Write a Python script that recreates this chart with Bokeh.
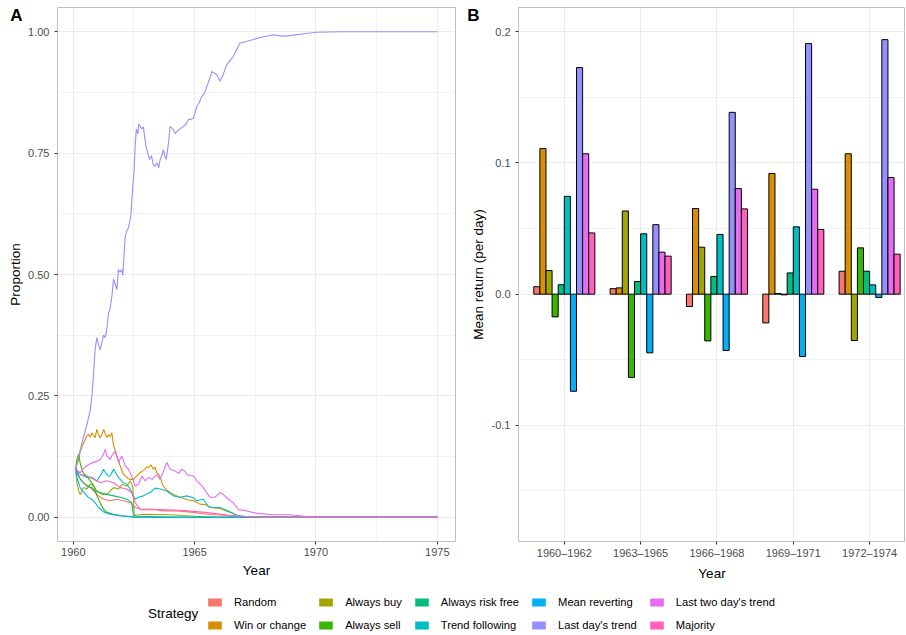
from bokeh.plotting import figure
from bokeh.models import (Range1d, FixedTicker, Label, Legend, LegendItem, LinearAxis,
                          ColumnDataSource, PrintfTickFormatter)
from bokeh.layouts import column, row
from bokeh.transform import dodge
from bokeh.embed import file_html
from bokeh.resources import INLINE

FONT = "Liberation Sans"

# ---------------- data ----------------
strategies = ["Random", "Win or change", "Always buy", "Always sell",
              "Always risk free", "Trend following", "Mean reverting",
              "Last day's trend", "Last two day's trend", "Majority"]
colors = ["#F8766D", "#D89000", "#A3A500", "#39B600", "#00BF7D",
          "#00BFC4", "#00B0F6", "#9590FF", "#E76BF3", "#FF62BC"]

# Panel A: proportion of population using each strategy over time
random_year = [1960.1, 1960.2, 1960.42, 1960.63, 1960.84, 1961.04, 1961.25, 1961.52, 1961.8, 1962.07,
               1962.34, 1962.55, 1962.89, 1963.3, 1963.71, 1964.27, 1964.95, 1965.5, 1966.2, 1966.8, 1975]
random_prop = [0.10, 0.085, 0.071, 0.064, 0.054, 0.044, 0.037, 0.034, 0.037, 0.034,
               0.03, 0.02, 0.015, 0.016, 0.013, 0.013, 0.01, 0.006, 0.004, 0.0, 0.0]

winchange_year = [1960.1, 1960.2, 1960.29, 1960.4, 1960.49, 1960.56, 1960.63, 1960.7, 1960.77, 1960.84,
                  1960.9, 1960.97, 1961.04, 1961.11, 1961.18, 1961.25, 1961.32, 1961.39, 1961.45, 1961.52,
                  1961.59, 1961.66, 1961.73, 1961.8, 1961.93, 1962.05, 1962.14, 1962.25, 1962.34, 1962.48,
                  1962.55, 1962.62, 1962.7, 1962.76, 1962.85, 1962.96, 1963.03, 1963.1, 1963.2, 1963.3,
                  1963.37, 1963.44, 1963.52, 1963.58, 1963.65, 1963.71, 1963.85, 1963.99, 1964.2, 1964.4,
                  1964.7, 1964.95, 1965.22, 1965.45, 1965.64, 1965.85, 1966.05, 1966.25, 1966.46, 1966.7,
                  1966.87, 1967.1, 1968.0, 1975]
winchange_prop = [0.10, 0.115, 0.136, 0.15, 0.16, 0.168, 0.171, 0.165, 0.174, 0.168,
                  0.164, 0.181, 0.17, 0.164, 0.17, 0.181, 0.172, 0.164, 0.17, 0.166,
                  0.174, 0.147, 0.138, 0.126, 0.106, 0.09, 0.085, 0.08, 0.078, 0.078,
                  0.082, 0.085, 0.09, 0.092, 0.095, 0.099, 0.104, 0.102, 0.108, 0.099,
                  0.103, 0.092, 0.088, 0.082, 0.072, 0.064, 0.056, 0.051, 0.045, 0.041,
                  0.036, 0.034, 0.027, 0.026, 0.02, 0.019, 0.018, 0.014, 0.01, 0.005,
                  0.003, 0.001, 0.0, 0.0]

buy_year = [1960.1, 1960.15, 1960.22, 1960.29, 1960.42, 1960.56, 1960.7, 1960.84, 1960.97, 1961.18,
            1961.39, 1961.52, 1961.66, 1961.86, 1962.0, 1962.21, 1962.34, 1962.45, 1962.51, 1963.0,
            1964.0, 1965.0, 1966.0, 1975]
buy_prop = [0.10, 0.071, 0.054, 0.047, 0.061, 0.058, 0.068, 0.065, 0.054, 0.047,
            0.047, 0.054, 0.061, 0.058, 0.068, 0.064, 0.075, 0.064, 0.004, 0.006,
            0.005, 0.002, 0.0, 0.0]

sell_year = [1960.1, 1960.15, 1960.22, 1960.29, 1960.42, 1960.56, 1960.7, 1960.84, 1960.97, 1961.11,
             1961.25, 1961.39, 1961.66, 1962.0, 1962.5, 1963.5, 1975]
sell_prop = [0.10, 0.12, 0.13, 0.11, 0.09, 0.085, 0.075, 0.065, 0.045, 0.03,
             0.016, 0.01, 0.006, 0.003, 0.001, 0.0, 0.0]

riskfree_year = [1960.1, 1960.29, 1960.56, 1960.77, 1960.9, 1961.11, 1961.39, 1961.66, 1961.93, 1962.21,
                 1962.41, 1962.48, 1962.6, 1963.5, 1964.5, 1965.5, 1975]
riskfree_prop = [0.10, 0.078, 0.064, 0.061, 0.054, 0.051, 0.047, 0.044, 0.041, 0.037,
                 0.03, 0.004, 0.002, 0.001, 0.0, 0.0, 0.0]

trend_year = [1960.1, 1960.29, 1960.56, 1960.77, 1960.97, 1961.11, 1961.25, 1961.32, 1961.45, 1961.52,
              1961.66, 1961.86, 1962.07, 1962.21, 1962.34, 1962.55, 1962.69, 1962.89, 1963.03, 1963.17,
              1963.37, 1963.58, 1963.85, 1964.13, 1964.4, 1964.68, 1964.95, 1965.09, 1965.36, 1965.57,
              1965.77, 1966.05, 1966.39, 1966.73, 1967.0, 1975]
trend_prop = [0.10, 0.088, 0.082, 0.082, 0.075, 0.085, 0.099, 0.092, 0.085, 0.085,
              0.099, 0.082, 0.071, 0.068, 0.058, 0.037, 0.041, 0.044, 0.048, 0.051,
              0.06, 0.058, 0.054, 0.044, 0.041, 0.044, 0.04, 0.034, 0.037, 0.022,
              0.02, 0.02, 0.013, 0.004, 0.0, 0.0]

meanrev_year = [1960.1, 1960.15, 1960.29, 1960.42, 1960.6, 1960.84, 1961.04, 1961.25, 1961.52, 1961.9,
                1962.5, 1975]
meanrev_prop = [0.10, 0.082, 0.06, 0.052, 0.042, 0.034, 0.02, 0.011, 0.006, 0.003,
                0.0, 0.0]

lastday_year = [1960.1, 1960.2, 1960.29, 1960.42, 1960.56, 1960.7, 1960.77, 1960.84, 1960.9, 1960.97,
                1961.04, 1961.11, 1961.18, 1961.25, 1961.32, 1961.39, 1961.45, 1961.52, 1961.59, 1961.66,
                1961.73, 1961.8, 1961.86, 1961.93, 1962.0, 1962.04, 1962.08, 1962.14, 1962.21, 1962.27,
                1962.37, 1962.45, 1962.51, 1962.55, 1962.6, 1962.66, 1962.7, 1962.76, 1962.82, 1962.89,
                1962.95, 1963.0, 1963.07, 1963.14, 1963.22, 1963.3, 1963.37, 1963.45, 1963.52, 1963.58,
                1963.65, 1963.71, 1963.77, 1963.83, 1963.92, 1963.99, 1964.1, 1964.2, 1964.27, 1964.4,
                1964.54, 1964.65, 1964.74, 1964.85, 1964.95, 1965.09, 1965.2, 1965.29, 1965.4, 1965.5,
                1965.6, 1965.71, 1965.8, 1965.91, 1966.05, 1966.18, 1966.32, 1966.45, 1966.59, 1966.75,
                1966.87, 1967.14, 1967.62, 1968.24, 1968.6, 1968.93, 1969.5, 1970.02, 1971.0, 1975]
lastday_prop = [0.10, 0.12, 0.14, 0.165, 0.19, 0.22, 0.25, 0.30, 0.345, 0.37,
                0.355, 0.345, 0.36, 0.375, 0.37, 0.39, 0.42, 0.43, 0.455, 0.49,
                0.48, 0.469, 0.51, 0.505, 0.51, 0.498, 0.53, 0.579, 0.59, 0.596,
                0.62, 0.68, 0.716, 0.764, 0.80, 0.79, 0.81, 0.805, 0.80, 0.804,
                0.78, 0.764, 0.75, 0.737, 0.745, 0.725, 0.723, 0.73, 0.72, 0.737,
                0.745, 0.757, 0.745, 0.737, 0.77, 0.805, 0.80, 0.79, 0.795, 0.80,
                0.805, 0.81, 0.819, 0.82, 0.822, 0.846, 0.855, 0.867, 0.872, 0.887,
                0.90, 0.918, 0.915, 0.912, 0.898, 0.912, 0.932, 0.94, 0.949, 0.965,
                0.977, 0.98, 0.987, 0.994, 0.991, 0.992, 0.996, 0.999, 1.0, 1.0]

lasttwo_year = [1960.1, 1960.2, 1960.29, 1960.42, 1960.56, 1960.7, 1960.84, 1960.97, 1961.11, 1961.25,
                1961.32, 1961.39, 1961.52, 1961.6, 1961.73, 1961.86, 1962.0, 1962.14, 1962.27, 1962.41,
                1962.55, 1962.69, 1962.83, 1962.96, 1963.1, 1963.25, 1963.44, 1963.58, 1963.72, 1963.85,
                1963.99, 1964.2, 1964.35, 1964.47, 1964.6, 1964.68, 1964.81, 1964.95, 1965.09, 1965.2,
                1965.36, 1965.5, 1965.64, 1965.84, 1966.05, 1966.18, 1966.39, 1966.59, 1966.8, 1967.14,
                1967.56, 1968.24, 1968.93, 1969.61, 1970.2, 1975]
lasttwo_prop = [0.10, 0.095, 0.092, 0.10, 0.106, 0.11, 0.113, 0.115, 0.119, 0.13,
                0.14, 0.126, 0.119, 0.128, 0.136, 0.113, 0.126, 0.106, 0.099, 0.085,
                0.064, 0.068, 0.085, 0.075, 0.082, 0.078, 0.088, 0.078, 0.095, 0.113,
                0.099, 0.095, 0.09, 0.099, 0.095, 0.088, 0.086, 0.085, 0.075, 0.07,
                0.061, 0.05, 0.041, 0.041, 0.051, 0.047, 0.037, 0.03, 0.016, 0.013,
                0.008, 0.005, 0.005, 0.0015, 0.0, 0.0]

majority_year = [1960.1, 1960.29, 1960.56, 1960.84, 1961.11, 1961.39, 1961.66, 1961.93, 1962.21, 1962.41,
                 1962.55, 1962.76, 1963.03, 1963.58, 1964.13, 1964.68, 1965.22, 1965.8, 1966.4, 1967.0,
                 1967.5, 1975]
majority_prop = [0.10, 0.088, 0.085, 0.078, 0.071, 0.075, 0.071, 0.061, 0.058, 0.051,
                 0.03, 0.016, 0.017, 0.016, 0.015, 0.013, 0.011, 0.008, 0.004, 0.002,
                 0.0, 0.0]

series_years = [random_year, winchange_year, buy_year, sell_year, riskfree_year,
                trend_year, meanrev_year, lastday_year, lasttwo_year, majority_year]
series_props = [random_prop, winchange_prop, buy_prop, sell_prop, riskfree_prop,
                trend_prop, meanrev_prop, lastday_prop, lasttwo_prop, majority_prop]

# Panel B: mean return per day by period
periods = ["1960\u20131962", "1963\u20131965", "1966\u20131968", "1969\u20131971", "1972\u20131974"]
period_pos = [1, 2, 3, 4, 5]
ret_random = [0.0057, 0.0042, -0.0094, -0.0219, 0.0175]
ret_winchange = [0.111, 0.0048, 0.0653, 0.092, 0.107]
ret_buy = [0.018, 0.0634, 0.0358, 0.0005, -0.0353]
ret_sell = [-0.0173, -0.0634, -0.0356, -0.0005, 0.0353]
ret_riskfree = [0.0072, 0.0097, 0.0135, 0.0162, 0.0175]
ret_trend = [0.0746, 0.046, 0.0455, 0.0513, 0.0071]
ret_meanrev = [-0.074, -0.0447, -0.0429, -0.0475, -0.0025]
ret_lastday = [0.1727, 0.053, 0.1386, 0.191, 0.194]
ret_lasttwo = [0.107, 0.032, 0.0805, 0.080, 0.0889]
ret_majority = [0.0467, 0.029, 0.065, 0.0493, 0.0305]
series_returns = [ret_random, ret_winchange, ret_buy, ret_sell, ret_riskfree,
                  ret_trend, ret_meanrev, ret_lastday, ret_lasttwo, ret_majority]


# ---------------- styling helpers ----------------
def style(p):
    p.outline_line_color = "#BEBEBE"
    p.outline_line_width = 1
    p.background_fill_color = "white"
    p.border_fill_color = "white"
    for ax in p.axis:
        ax.axis_line_color = None
        ax.major_tick_line_color = "#333333"
        ax.major_tick_out = 3
        ax.major_tick_in = 0
        ax.minor_tick_line_color = None
        ax.major_label_standoff = 2
        ax.major_label_text_font = FONT
        ax.major_label_text_font_size = "11px"
        ax.major_label_text_color = "#4D4D4D"
        ax.axis_label_text_font = FONT
        ax.axis_label_text_font_size = "13.5px"
        ax.axis_label_text_font_style = "normal"
        ax.axis_label_text_color = "black"
    for g in p.grid:
        g.grid_line_color = "#EBEBEB"
        g.grid_line_width = 1


def tag_axis(p, tick, tag, title, label_standoff, title_standoff):
    """Outer left axis carrying the panel tag (bold letter) and the y title."""
    ax = LinearAxis(ticker=FixedTicker(ticks=[tick]),
                    major_label_overrides={tick: tag},
                    axis_label=title,
                    axis_line_color=None, major_tick_line_color=None,
                    minor_tick_line_color=None, major_tick_out=0, major_tick_in=0,
                    major_label_standoff=label_standoff,
                    major_label_text_font=FONT, major_label_text_font_size="17px",
                    major_label_text_font_style="bold", major_label_text_color="black",
                    axis_label_standoff=title_standoff,
                    axis_label_text_font=FONT, axis_label_text_font_size="13.5px",
                    axis_label_text_font_style="normal", axis_label_text_color="black")
    p.add_layout(ax, "left")


H = 583
TOP = 7
BOTTOM = 42

# ---------------- Panel A ----------------
xa0, xa1 = 1959.35, 1975.75
ya0, ya1 = -0.05, 1.05
pA = figure(width=468, height=H, x_range=Range1d(xa0, xa1), y_range=Range1d(ya0, ya1),
            output_backend="svg", toolbar_location=None,
            min_border_left=57, min_border_right=13, min_border_top=TOP, min_border_bottom=BOTTOM)
for yrs, props, c in zip(series_years, series_props, colors):
    pA.line(yrs, props, line_color=c, line_width=1.1)
pA.xaxis.ticker = FixedTicker(ticks=[1960, 1965, 1970, 1975], minor_ticks=[1962.5, 1967.5, 1972.5])
pA.yaxis.ticker = FixedTicker(ticks=[0, 0.25, 0.5, 0.75, 1.0], minor_ticks=[0.125, 0.375, 0.625, 0.875])
pA.yaxis.formatter = PrintfTickFormatter(format="%.2f")
pA.xaxis.axis_label = "Year"
style(pA)
pA.yaxis.major_label_standoff = 4
for g in pA.grid:
    g.minor_grid_line_color = "#EBEBEB"
    g.minor_grid_line_width = 0.6
pA.xaxis.axis_label_standoff = 4
tag_axis(pA, round(ya1 - 8 * (ya1 - ya0) / 534, 4), "A", "Proportion", 3, -16)

# ---------------- Panel B ----------------
xb0, xb1 = 0.4, 5.47
yb0, yb1 = -0.1885, 0.2185
pB = figure(width=437, height=H, x_range=Range1d(xb0, xb1), y_range=Range1d(yb0, yb1),
            output_backend="svg", toolbar_location=None,
            min_border_left=48, min_border_right=0, min_border_top=TOP, min_border_bottom=BOTTOM)
n = len(strategies)
bar_w = 0.8 / n
for i, (name, rets, c) in enumerate(zip(strategies, series_returns, colors)):
    src = ColumnDataSource(dict(pos=period_pos, ret=rets))
    pB.vbar(x=dodge("pos", (i - (n - 1) / 2) * bar_w, range=pB.x_range), top="ret", bottom=0,
            width=bar_w, source=src, fill_color=c, line_color="black", line_width=1)
pB.xaxis.ticker = FixedTicker(ticks=period_pos)
pB.xaxis.major_label_overrides = {pos: lab for pos, lab in zip(period_pos, periods)}
pB.yaxis.ticker = FixedTicker(ticks=[-0.1, 0.0, 0.1, 0.2], minor_ticks=[-0.15, -0.05, 0.05, 0.15])
pB.yaxis.formatter = PrintfTickFormatter(format="%.1f")
pB.xaxis.axis_label = "Year"
style(pB)
pB.yaxis.major_label_standoff = 4
pB.xgrid.minor_grid_line_color = None
pB.ygrid.minor_grid_line_color = "#EBEBEB"
pB.ygrid.minor_grid_line_width = 0.6
pB.xaxis.axis_label_standoff = 4
tag_axis(pB, round(yb1 - 8 * (yb1 - yb0) / 534, 4), "B", "Mean return (per day)", 9, -22)

# ---------------- Legend strip ----------------
LH = 635 - H
pL = figure(width=905, height=LH, x_range=Range1d(0, 905), y_range=Range1d(0, LH),
            output_backend="svg", toolbar_location=None,
            min_border_left=0, min_border_right=0, min_border_top=0, min_border_bottom=0)
pL.axis.visible = False
pL.grid.visible = False
pL.outline_line_color = None
items = []
for name, c in zip(strategies, colors):
    r = pL.vbar(x=[float("nan")], top=[float("nan")], width=1, fill_color=c, line_color=None)
    items.append(LegendItem(label=name, renderers=[r]))
leg = Legend(items=items, location=(206, 4), orientation="vertical", nrows=2,
             glyph_width=17, glyph_height=10, label_height=11, label_standoff=11,
             spacing=11, padding=0, margin=0, border_line_color=None,
             background_fill_alpha=0, label_text_font=FONT, label_text_font_size="11.2px",
             label_text_color="black", label_text_baseline="middle")
pL.add_layout(leg)
pL.add_layout(Label(x=147.5, y=22, text="Strategy", text_font=FONT, text_font_size="13.5px",
                    text_baseline="middle", text_color="black"))

layout = column(row(pA, pB), pL)
open("out.html", "w").write(file_html(layout, INLINE))
